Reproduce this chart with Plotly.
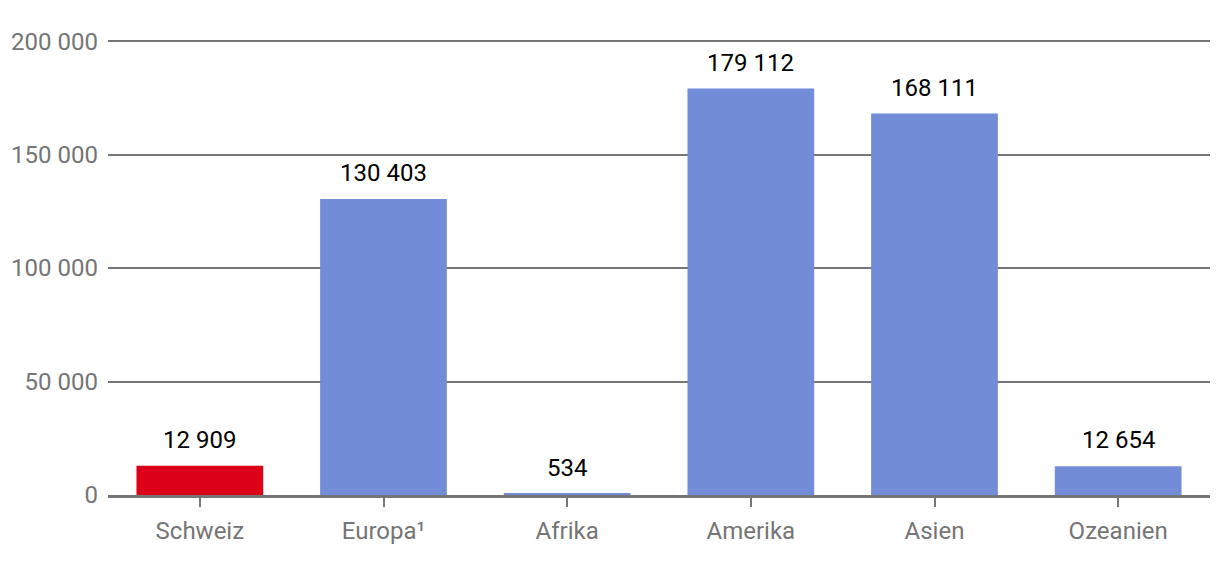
import plotly.graph_objects as go

categories = ["Schweiz", "Europa¹", "Afrika", "Amerika", "Asien", "Ozeanien"]
values = [12909, 130403, 534, 179112, 168111, 12654]
value_labels = ["12 909", "130 403", "534", "179 112", "168 111", "12 654"]
bar_colors = ["#dc0018", "#728cd8", "#728cd8", "#728cd8", "#728cd8", "#728cd8"]
tick_vals = [0, 50000, 100000, 150000, 200000]
tick_text = ["0", "50 000", "100 000", "150 000", "200 000"]

fig = go.Figure()
fig.add_trace(go.Bar(x=categories, y=values, marker=dict(color=bar_colors, line=dict(width=0)),
                     hoverinfo="skip"))

for c, v, t in zip(categories, values, value_labels):
    fig.add_annotation(x=c, y=v, text=t, showarrow=False, yanchor="bottom", yshift=10,
                       font=dict(family="Roboto", size=24, color="#000000"))

fig.update_layout(
    width=1220, height=569,
    margin=dict(l=108, r=10, t=40, b=74),
    paper_bgcolor="white", plot_bgcolor="white",
    bargap=0.31,
    showlegend=False,
    font=dict(family="Roboto", size=24, color="#757575"),
)
fig.update_xaxes(showline=True, linecolor="#757575", linewidth=2.5, layer="above traces",
                 ticks="outside", ticklen=9, tickwidth=2, tickcolor="#757575",
                 ticklabelstandoff=3,
                 tickfont=dict(family="Roboto", size=24, color="#757575"),
                 showgrid=False)
fig.update_yaxes(range=[0, 200500], tickvals=tick_vals, ticktext=tick_text,
                 showgrid=True, gridcolor="#757575", gridwidth=1.5,
                 zeroline=False, ticks="", ticklabelstandoff=9,
                 tickfont=dict(family="Roboto", size=24, color="#757575"))

fig.write_html("out.html", config={"displayModeBar": False},
               post_script="document.body.style.margin='0';document.body.style.overflow='hidden';")
